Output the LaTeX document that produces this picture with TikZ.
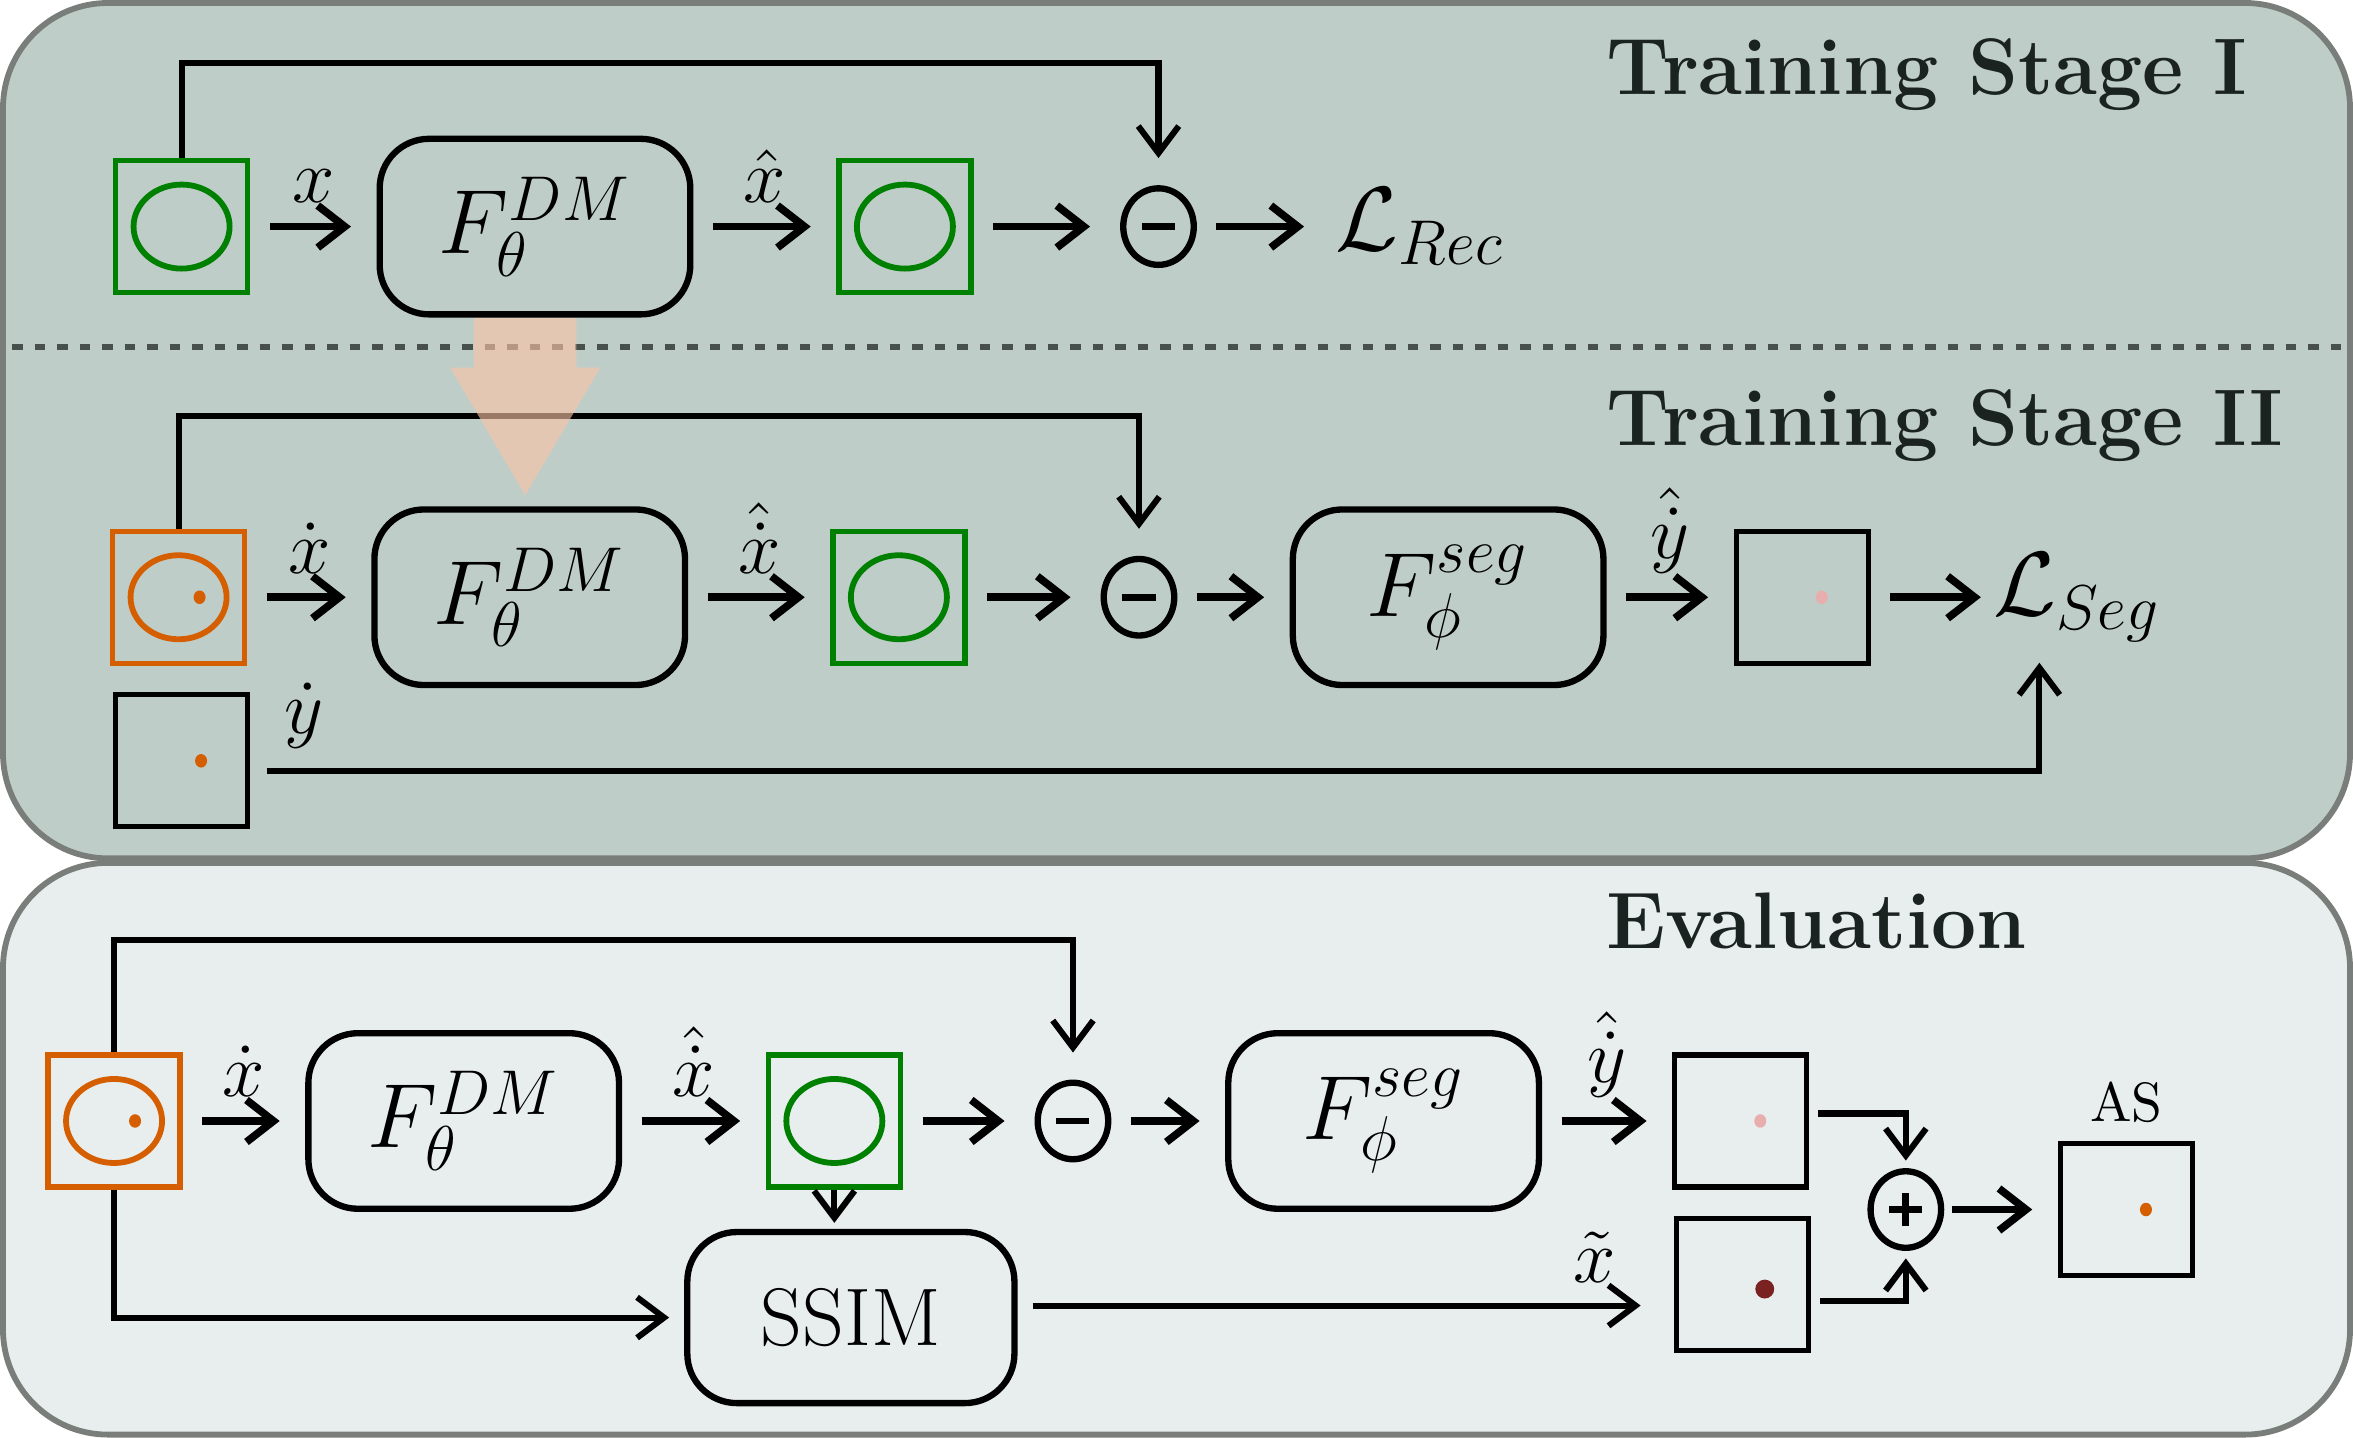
\documentclass[tikz,border=0pt]{standalone}
\usepackage{tikz}
\usetikzlibrary{positioning,calc,arrows.meta,shapes.geometric}

\definecolor{stagebg}{RGB}{191,205,201}
\definecolor{evalbg}{RGB}{232,238,238}
\definecolor{panelrim}{RGB}{122,126,122}
\definecolor{dmgreen}{RGB}{0,128,0}
\definecolor{anoorange}{RGB}{213,94,0}
\definecolor{predpink}{RGB}{232,174,174}
\definecolor{ssimred}{RGB}{122,34,34}
\definecolor{transfer}{RGB}{250,196,165}
\definecolor{titlegray}{RGB}{27,35,33}

\tikzset{
  panel/.style={draw=panelrim, line width=1.1pt, rounded corners=0.7cm},
  stagesep/.style={draw={rgb,255:red,72;green,80;blue,78}, line width=1.1pt, dash pattern=on 0.07cm off 0.08cm},
  title/.style={anchor=base west, inner sep=0pt, text=titlegray, font=\fontsize{15.2}{18}\selectfont\bfseries},
  block/.style={draw, line width=1.2pt, rounded corners=0.33cm, minimum width=2.07cm, minimum height=1.17cm, font=\fontsize{16.5}{19}\selectfont},
  imgbox/.style={draw, line width=1pt, minimum size=0.88cm, inner sep=0pt},
  recimg/.style={imgbox, draw=dmgreen, path picture={\draw[dmgreen, line width=1.1pt] (path picture bounding box.center) ellipse (0.32 and 0.28);}},
  anoimg/.style={imgbox, draw=anoorange, path picture={
      \draw[anoorange, line width=1.1pt] (path picture bounding box.center) ellipse (0.32 and 0.28);
      \fill[anoorange] ([xshift=0.14cm]path picture bounding box.center) ellipse (0.04 and 0.045);}},
  mapimg/.style={imgbox, path picture={\fill[#1] ([xshift=0.13cm]path picture bounding box.center) ellipse (0.04 and 0.045);}},
  op/.style={draw, ellipse, line width=1.2pt, minimum width=0.47cm, minimum height=0.51cm, inner sep=0pt},
  subop/.style={op, path picture={\draw[line width=1.3pt] ([xshift=-0.11cm]path picture bounding box.center) -- ([xshift=0.11cm]path picture bounding box.center);}},
  addop/.style={op, path picture={
      \draw[line width=1.3pt] ([xshift=-0.11cm]path picture bounding box.center) -- ([xshift=0.11cm]path picture bounding box.center);
      \draw[line width=1.3pt] ([yshift=-0.11cm]path picture bounding box.center) -- ([yshift=0.11cm]path picture bounding box.center);}},
  loss/.style={anchor=west, inner sep=1pt, font=\fontsize{16.5}{19}\selectfont},
  lbl/.style={above=0.1cm, inner sep=1pt, font=\fontsize{14}{17}\selectfont},
  flow/.style={line width=1.45pt, -{Straight Barb[length=1.8mm,width=2.8mm]}, shorten <=0.13cm, shorten >=0.17cm},
  link/.style={line width=1.15pt, -{Straight Barb[length=1.8mm,width=2.7mm]}},
}

\begin{document}
\begin{tikzpicture}
  \useasboundingbox (0,0) rectangle (15.68,9.58);

  % panels
  \draw[panel, fill=stagebg] (0.02,3.86) rectangle (15.66,9.56);
  \draw[panel, fill=evalbg] (0.02,0.02) rectangle (15.66,3.83);
  \draw[stagesep] (0.08,7.27) -- (15.60,7.27);

  % training stage I
  \node[title] at (10.70,8.95) {Training Stage I};
  \node[recimg] (img1) at (1.21,8.07) {};
  \node[block] (fdm1) at (3.565,8.07) {$F_\theta^{DM}$};
  \node[recimg] (rec1) at (6.03,8.07) {};
  \node[subop] (mn1) at (7.72,8.07) {};
  \node[loss] (lrec) at (8.86,8.07) {$\mathcal{L}_{Rec}$};
  \draw[flow] (img1) -- node[lbl] {$x$} (fdm1);
  \draw[flow] (fdm1) -- node[lbl] {$\hat{x}$} (rec1);
  \draw[flow, shorten >=0.2cm] (rec1) -- (mn1);
  \draw[flow] (mn1) -- (lrec);
  \draw[link, shorten >=0.18cm] (img1.north) -- ++(0,0.63) -| (mn1.north);

  % training stage II
  \node[title] at (10.70,6.61) {Training Stage II};
  \node[anoimg] (img2) at (1.19,5.60) {};
  \node[block] (fdm2) at (3.53,5.60) {$F_\theta^{DM}$};
  \node[recimg] (rec2) at (5.99,5.60) {};
  \node[subop] (mn2) at (7.59,5.60) {};
  \node[block] (fseg2) at (9.65,5.60) {$F_\phi^{seg}$};
  \node[mapimg=predpink] (out2) at (12.01,5.60) {};
  \node[loss] (lseg) at (13.24,5.60) {$\mathcal{L}_{Seg}$};
  \node[mapimg=anoorange] (gt2) at (1.21,4.51) {};
  \draw[flow] (img2) -- node[lbl] {$\dot{x}$} (fdm2);
  \draw[flow] (fdm2) -- node[lbl] {$\hat{\dot{x}}$} (rec2);
  \draw[flow, shorten >=0.2cm] (rec2) -- (mn2);
  \draw[flow] (mn2) -- (fseg2);
  \draw[flow] (fseg2) -- node[lbl] {$\hat{\dot{y}}$} (out2);
  \draw[flow, shorten >=0.04cm] (out2) -- (lseg);
  \draw[link, shorten >=0.18cm] (img2.north) -- ++(0,0.75) -| (mn2.north);
  \draw[link, shorten <=0.11cm, shorten >=0.1cm] ([yshift=-0.07cm]gt2.east) -| ([xshift=0.35cm]lseg.south west)
    node[lbl, pos=0.015] {$\dot{y}$};

  % transfer of the trained model
  \fill[transfer, opacity=0.62] (3.16,7.46) -- (3.16,7.13) -- (3.00,7.13) -- (3.50,6.28)
    -- (4.00,7.13) -- (3.84,7.13) -- (3.84,7.46) -- cycle;

  % evaluation
  \node[title] at (10.70,3.26) {Evaluation};
  \node[anoimg] (img3) at (0.76,2.11) {};
  \node[block] (fdm3) at (3.09,2.11) {$F_\theta^{DM}$};
  \node[recimg] (rec3) at (5.56,2.11) {};
  \node[subop] (mn3) at (7.15,2.11) {};
  \node[block] (fseg3) at (9.22,2.11) {$F_\phi^{seg}$};
  \node[mapimg=predpink] (out3) at (11.60,2.11) {};
  \node[mapimg=ssimred, path picture={\fill[ssimred] ([xshift=0.15cm,yshift=-0.03cm]path picture bounding box.center) circle (0.063);}] (an3) at (11.61,1.02) {};
  \node[addop] (pl3) at (12.70,1.52) {};
  \node[mapimg=anoorange] (as3) at (14.17,1.52) {};
  \node[above=0.08cm of as3, inner sep=1pt, font=\fontsize{10.5}{12}\selectfont] (aslbl) {AS};
  \node[block, minimum width=2.18cm, minimum height=1.14cm, font=\fontsize{15.5}{18}\selectfont] (ssim) at (5.67,0.80) {SSIM};
  \draw[flow] (img3) -- node[lbl] {$\dot{x}$} (fdm3);
  \draw[flow] (fdm3) -- node[lbl] {$\hat{\dot{x}}$} (rec3);
  \draw[flow, shorten >=0.2cm] (rec3) -- (mn3);
  \draw[flow] (mn3) -- (fseg3);
  \draw[flow] (fseg3) -- node[lbl] {$\hat{\dot{y}}$} (out3);
  \draw[link, shorten >=0.18cm] (img3.north) -- ++(0,0.75) -| (mn3.north);
  \draw[link, shorten >=0.04cm] (rec3.south) -- (rec3.south |- ssim.north);
  \draw[link, shorten >=0.1cm] (img3.south) |- (ssim.west);
  \draw[link, shorten <=0.1cm, shorten >=0.22cm] ([yshift=0.08cm]ssim.east) -- ([yshift=0.08cm]ssim.east -| an3.west)
    node[lbl, pos=0.88] {$\tilde{x}$};
  \draw[link, shorten <=0.06cm, shorten >=0.05cm] ([yshift=0.05cm]out3.east) -| (pl3.north);
  \draw[link, shorten <=0.06cm, shorten >=0.05cm] ([yshift=-0.11cm]an3.east) -| (pl3.south);
  \draw[flow, shorten <=0.05cm] (pl3) -- (as3);
\end{tikzpicture}
\end{document}
